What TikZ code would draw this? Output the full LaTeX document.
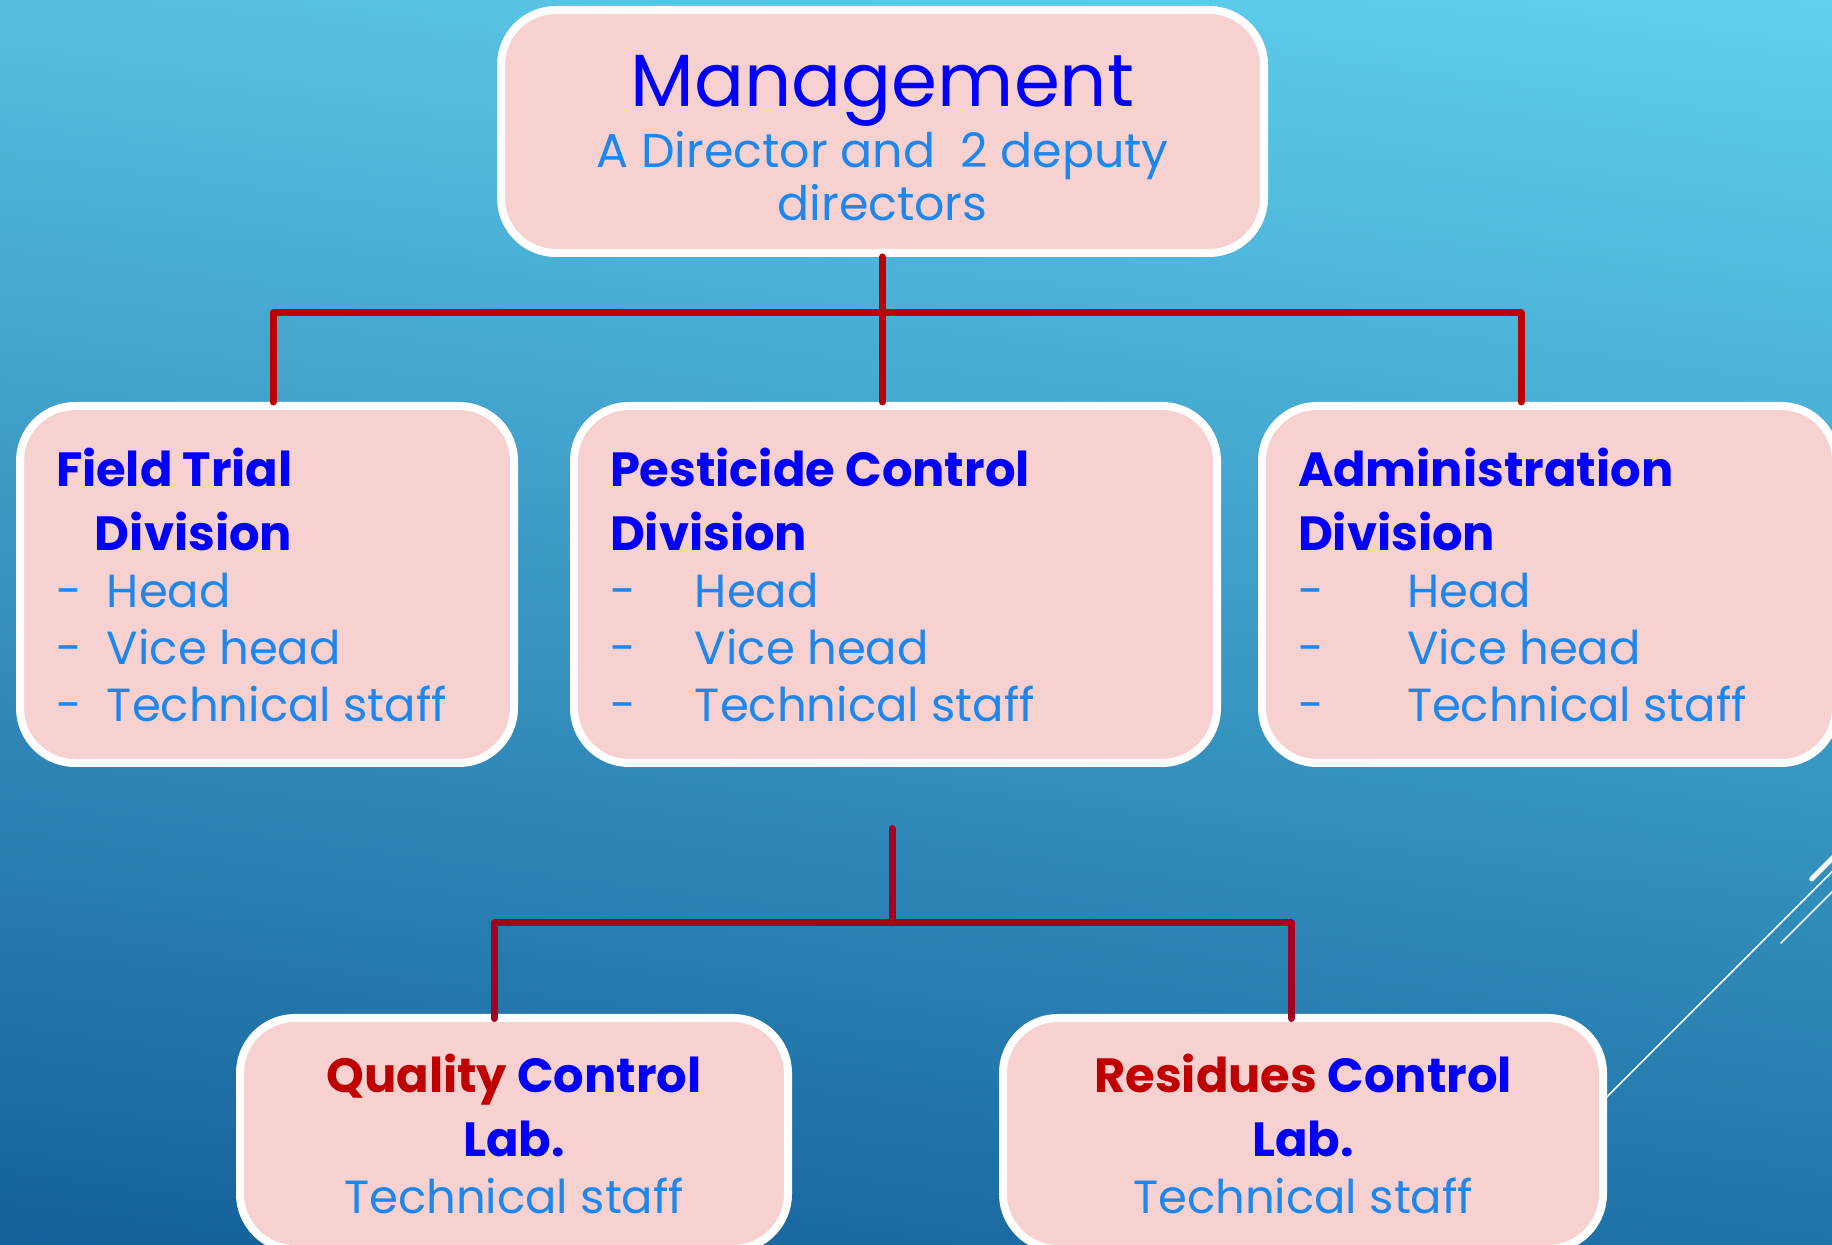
\documentclass[tikz,border=0pt]{standalone}
\usepackage{fontspec}
\setmainfont{Poppins}
\usetikzlibrary{positioning, calc, shadings}

\definecolor{skytl}{HTML}{56BEE0}
\definecolor{skytr}{HTML}{5FD0EE}
\definecolor{skybl}{HTML}{14609A}
\definecolor{skybr}{HTML}{1F74A8}
\definecolor{boxpink}{HTML}{F7D1D0}
\definecolor{headblue}{HTML}{0000FF}
\definecolor{textblue}{HTML}{1E86EF}
\definecolor{linkred}{HTML}{C00000}
\definecolor{labred}{HTML}{A50021}

\setlength{\parindent}{0pt}
\newcommand{\wordgaps}{\spaceskip=\fontdimen2\font\xspaceskip=\fontdimen2\font}
\newcommand{\bigfont}{\fontsize{74}{64}\selectfont\mdseries\wordgaps\color{headblue}}
\newcommand{\subfont}{\fontsize{47.5}{53}\selectfont\mdseries\wordgaps\color{textblue}}
\newcommand{\headfont}{\fontsize{48}{64}\selectfont\bfseries\wordgaps\color{headblue}}
\newcommand{\listfont}{\fontsize{46.5}{57}\selectfont\mdseries\wordgaps\color{textblue}}
\newcommand{\entry}[2]{\makebox[#1][l]{-}#2}

\begin{document}
\begin{tikzpicture}[x=1pt, y=1pt,
  orgbox/.style={draw=white, line width=8pt, fill=boxpink, rounded corners=55pt,
    inner xsep=36pt, inner ysep=0pt, align=left},
  toplink/.style={draw=linkred, line width=7pt, line cap=round, line join=round},
  lablink/.style={toplink, draw=labred},
  deco/.style={draw=white, line width=1.5pt},
]
% slide background
\shade[upper left=skytl, upper right=skytr, lower left=skybl, lower right=skybr]
  (0,0) rectangle (1832,1245);
\useasboundingbox (0,0) rectangle (1832,1245);
\draw[deco] (1850,391.3) -- (1560,101.3);
\draw[deco] (1780.7,301.7) -- (1850,371);
\draw[deco, line width=5pt, line cap=round] (1811.7,366) -- (1845,399.3);

% boxes
\node[orgbox, align=center, minimum height=243pt, text width=691pt] (mgmt) at (882.5,1113.5)
  {\bigfont\rule{0pt}{64pt}Management\\[4pt]
   \subfont A Director and\ \ 2 deputy\\ directors\par};
\node[orgbox, minimum height=357pt, text width=422pt] (field) at (267,660.5)
  {\headfont Field Trial\\ \hspace*{39pt}Division\par
   \listfont\entry{51pt}{Head}\\ \entry{51pt}{Vice head}\\ \entry{51pt}{Technical staff}\par};
\node[orgbox, minimum height=357pt, text width=571pt] (pest) at (895.5,660.5)
  {\headfont Pesticide Control\\ Division\par
   \listfont\entry{85pt}{Head}\\ \entry{85pt}{Vice head}\\ \entry{85pt}{Technical staff}\par};
\node[orgbox, minimum height=357pt, text width=502pt] (admin) at (1549,660.5)
  {\headfont Administration\\ Division\par
   \listfont\entry{109pt}{Head}\\ \entry{109pt}{Vice head}\\ \entry{109pt}{Technical staff}\par};
\node[orgbox, align=center, minimum height=231pt, text width=476pt] (qclab) at (514,111.5)
  {\headfont{\color{linkred}Quality} Control\\ Lab.\par
   \listfont Technical staff\par};
\node[orgbox, align=center, minimum height=231pt, text width=528pt] (rclab) at (1303,111.5)
  {\headfont{\color{linkred}Residues} Control\\ Lab.\par
   \listfont Technical staff\par};

% connectors
\draw[toplink] (mgmt.south) -- ++(0,-56) coordinate (bus);
\draw[toplink] ([xshift=6pt]field.north) |- (bus) -| ([xshift=-28pt]admin.north);
\draw[toplink] (bus) -- (bus |- pest.north);
\coordinate (fork) at ([xshift=-3.5pt, yshift=-61.5pt]pest.south);
\draw[lablink] (fork) -- ++(0,-94.5) coordinate (labbus);
\draw[lablink] ([xshift=-20pt, yshift=-4.5pt]qclab.north) |- (labbus)
  -| ([xshift=-12pt, yshift=-4.5pt]rclab.north);
\end{tikzpicture}
\end{document}
